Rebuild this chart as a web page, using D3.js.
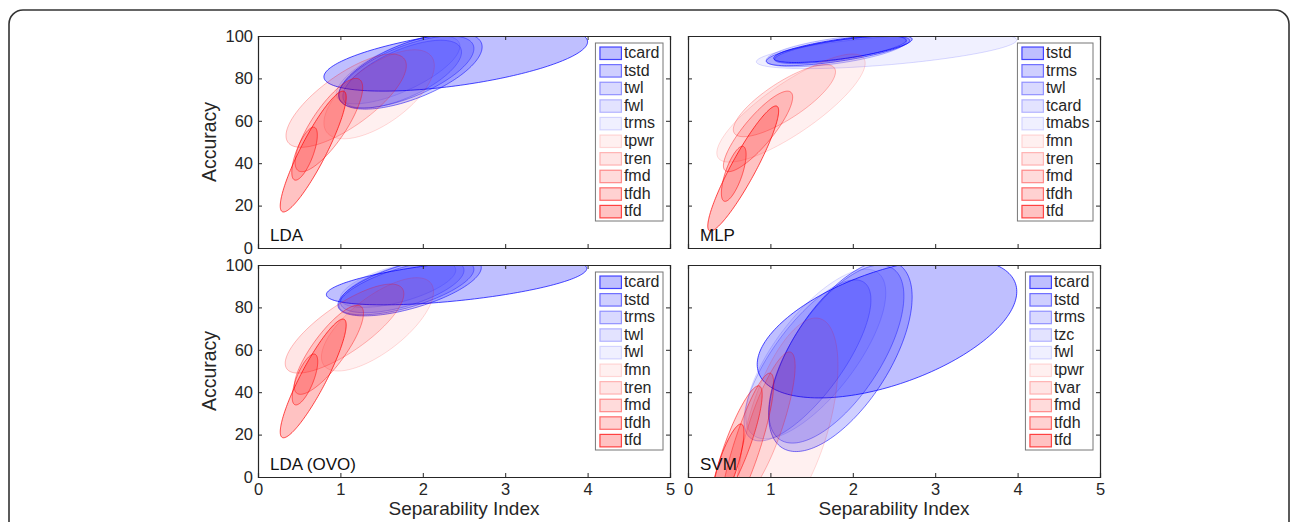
<!DOCTYPE html>
<html><head><meta charset="utf-8">
<script src="https://cdn.jsdelivr.net/npm/d3@7"></script>
<style>
body{margin:0;background:#fff}
svg{display:block}
text{font-family:"Liberation Sans",Arial,Helvetica,sans-serif;fill:#262626}
</style>
</head><body>
<svg id="chart" width="1292" height="522"></svg>
<script>
// ---------- data ----------
const xTicks = [0, 1, 2, 3, 4, 5];
const yTicks = [0, 20, 40, 60, 80, 100];
const xLabel = "Separability Index";
const yLabel = "Accuracy";
const panelTitles = ["LDA", "MLP", "LDA (OVO)", "SVM"];

// each ellipse: [centre x, centre y, half-width x, half-height y, correlation]
const ldaNames = ["tcard", "tstd", "twl", "fwl", "trms", "tpwr", "tren", "fmd", "tfdh", "tfd"];
const ldaEllipses = [
  [2.40, 89.0, 1.60, 15.0, 0.55],
  [1.85, 83.5, 0.87, 18.0, 0.63],
  [1.80, 83.0, 0.82, 17.0, 0.65],
  [1.75, 82.0, 0.72, 16.0, 0.65],
  [1.70, 84.0, 0.75, 16.0, 0.70],
  [1.47, 72.5, 0.67, 21.0, 0.64],
  [1.07, 69.5, 0.73, 22.0, 0.75],
  [0.86, 58.0, 0.41, 22.0, 0.80],
  [0.565, 44.5, 0.155, 12.5, 0.70],
  [0.67, 45.5, 0.40, 28.5, 0.90]
];

const mlpNames = ["tstd", "trms", "twl", "tcard", "tmabs", "fmn", "tren", "fmd", "tfdh", "tfd"];
const mlpEllipses = [
  [1.88, 94.0, 0.84, 6.5, 0.69],
  [1.82, 93.0, 0.87, 7.0, 0.70],
  [1.85, 93.5, 0.80, 6.5, 0.70],
  [1.80, 93.0, 0.85, 7.5, 0.60],
  [2.41, 93.0, 1.58, 8.4, 0.61],
  [1.25, 66.0, 0.90, 25.5, 0.83],
  [1.17, 69.5, 0.62, 17.0, 0.80],
  [0.85, 55.0, 0.42, 19.0, 0.85],
  [0.555, 35.0, 0.15, 13.0, 0.70],
  [0.67, 37.5, 0.43, 29.5, 0.92]
];

const ovoNames = ["tcard", "tstd", "trms", "twl", "fwl", "fmn", "tren", "fmd", "tfdh", "tfd"];
const ovoEllipses = [
  [2.41, 92.2, 1.58, 11.0, 0.56],
  [1.84, 90.0, 0.87, 14.0, 0.63],
  [1.80, 89.5, 0.82, 13.0, 0.65],
  [1.75, 90.0, 0.75, 12.5, 0.60],
  [1.70, 91.0, 0.70, 11.0, 0.60],
  [1.45, 72.0, 0.68, 22.0, 0.70],
  [1.05, 70.0, 0.72, 21.0, 0.78],
  [0.86, 60.0, 0.42, 21.0, 0.82],
  [0.57, 46.0, 0.155, 12.0, 0.70],
  [0.67, 46.5, 0.40, 28.0, 0.90]
];

const svmNames = ["tcard", "tstd", "trms", "tzc", "fwl", "tpwr", "tvar", "fmd", "tfdh", "tfd"];
const svmEllipses = [
  [2.415, 70.3, 1.575, 33.0, 0.52],
  [1.85, 57.0, 0.87, 45.0, 0.62],
  [1.80, 58.0, 0.82, 42.0, 0.65],
  [1.45, 55.0, 0.77, 38.0, 0.75],
  [1.55, 58.0, 0.85, 40.0, 0.72],
  [1.22, 25.0, 0.60, 50.0, 0.55],
  [0.95, 25.0, 0.35, 34.0, 0.80],
  [0.72, 15.0, 0.32, 34.0, 0.85],
  [0.60, 15.0, 0.30, 28.0, 0.85],
  [0.48, 5.0, 0.20, 20.0, 0.80]
];

// ---------- styles ----------
const seriesColor = ["#0000ff","#0000ff","#0000ff","#0000ff","#0000ff","#ff0000","#ff0000","#ff0000","#ff0000","#ff0000"];
const fillAlpha = [0.25, 0.19, 0.15, 0.11, 0.06, 0.06, 0.10, 0.14, 0.18, 0.24];
const strokeAlpha = [0.70, 0.52, 0.38, 0.26, 0.14, 0.14, 0.26, 0.42, 0.55, 0.70];

const panels = [
  {names: ldaNames, ell: ldaEllipses, x0: 258, y0: 36, yLab: true, xLab: false},
  {names: mlpNames, ell: mlpEllipses, x0: 688, y0: 36, yLab: false, xLab: false},
  {names: ovoNames, ell: ovoEllipses, x0: 258, y0: 265, yLab: true, xLab: true},
  {names: svmNames, ell: svmEllipses, x0: 688, y0: 265, yLab: false, xLab: true}
];
const W = 412, H = 212;

const svg = d3.select("#chart");

// outer frame
svg.append("rect").attr("x", 9).attr("y", 10).attr("width", 1280).attr("height", 600)
  .attr("rx", 14).attr("fill", "none").attr("stroke", "#333").attr("stroke-width", 1.6);

function ellipsePoints(e, x, y) {
  const [cx, cy, sx, sy, r] = e;
  const q = Math.sqrt(1 - r * r);
  return d3.range(0, 360, 2).map(a => {
    const t = a * Math.PI / 180;
    return [x(cx + sx * Math.cos(t)), y(cy + sy * (r * Math.cos(t) + q * Math.sin(t)))];
  });
}
const line = d3.line().curve(d3.curveLinearClosed);

panels.forEach((p, pi) => {
  const x = d3.scaleLinear().domain([0, 5]).range([p.x0, p.x0 + W]);
  const y = d3.scaleLinear().domain([0, 100]).range([p.y0 + H, p.y0]);
  const g = svg.append("g");

  const clipId = "clip" + pi;
  svg.append("clipPath").attr("id", clipId).append("rect")
    .attr("x", p.x0).attr("y", p.y0).attr("width", W).attr("height", H);

  const eg = g.append("g").attr("clip-path", `url(#${clipId})`);
  p.ell.forEach((e, i) => {
    eg.append("path").attr("d", line(ellipsePoints(e, x, y)))
      .attr("fill", seriesColor[i]).attr("fill-opacity", fillAlpha[i])
      .attr("stroke", seriesColor[i]).attr("stroke-opacity", strokeAlpha[i])
      .attr("stroke-width", 1);
  });

  // axes (box with inward ticks)
  const axCol = "#262626";
  const axB = g.append("g").attr("transform", `translate(0,${p.y0 + H})`)
    .call(d3.axisBottom(x).tickValues(xTicks).tickSize(-4).tickPadding(6).tickFormat(p.xLab ? d3.format("d") : () => ""));
  const axT = g.append("g").attr("transform", `translate(0,${p.y0})`)
    .call(d3.axisTop(x).tickValues(xTicks).tickSize(-4).tickFormat(() => ""));
  const axL = g.append("g").attr("transform", `translate(${p.x0},0)`)
    .call(d3.axisLeft(y).tickValues(yTicks).tickSize(-4).tickPadding(5).tickFormat(p.yLab ? d3.format("d") : () => ""));
  const axR = g.append("g").attr("transform", `translate(${p.x0 + W},0)`)
    .call(d3.axisRight(y).tickValues(yTicks).tickSize(-4).tickFormat(() => ""));
  [axB, axT, axL, axR].forEach(a => {
    a.select(".domain").attr("stroke", axCol).attr("stroke-width", 1.2);
    a.selectAll(".tick line").attr("stroke", axCol);
    a.selectAll("text").attr("font-size", 16.5).attr("fill", axCol)
      .attr("font-family", '"Liberation Sans", Arial, sans-serif');
  });

  // panel title
  g.append("text").attr("x", p.x0 + 12).attr("y", p.y0 + H - 7)
    .attr("font-size", 17).style("fill", "#111").text(panelTitles[pi]);

  if (p.yLab) {
    g.append("text").attr("transform", `translate(${p.x0 - 42},${p.y0 + H / 2}) rotate(-90)`)
      .attr("text-anchor", "middle").attr("font-size", 19.5).text(yLabel);
  }
  if (p.xLab) {
    g.append("text").attr("x", p.x0 + W / 2).attr("y", p.y0 + H + 38)
      .attr("text-anchor", "middle").attr("font-size", 19).text(xLabel);
  }

  // legend
  const lg = g.append("g");
  const box = lg.append("rect").attr("fill", "#fff").attr("stroke", "#777").attr("stroke-width", 1);
  let maxW = 0;
  const rowH = 17.6;
  const top = p.y0 + 7;
  p.names.forEach((n, i) => {
    const t = lg.append("text").attr("font-size", 16).attr("y", top + 15 + i * rowH).text(n);
    maxW = Math.max(maxW, t.node().getComputedTextLength());
  });
  const lw = 28.5 + maxW + 3.5;
  const lx = p.x0 + W - 7 - lw;
  box.attr("x", lx).attr("y", top).attr("width", lw).attr("height", rowH * 10 + 2);
  lg.selectAll("text").attr("x", lx + 28.5);
  p.names.forEach((n, i) => {
    lg.append("rect").attr("x", lx + 4.5).attr("y", top + 4 + i * rowH)
      .attr("width", 21.5).attr("height", 12.5)
      .attr("fill", seriesColor[i]).attr("fill-opacity", fillAlpha[i])
      .attr("stroke", seriesColor[i]).attr("stroke-opacity", strokeAlpha[i]).attr("stroke-width", 1.2);
  });
});
</script>
</body></html>
